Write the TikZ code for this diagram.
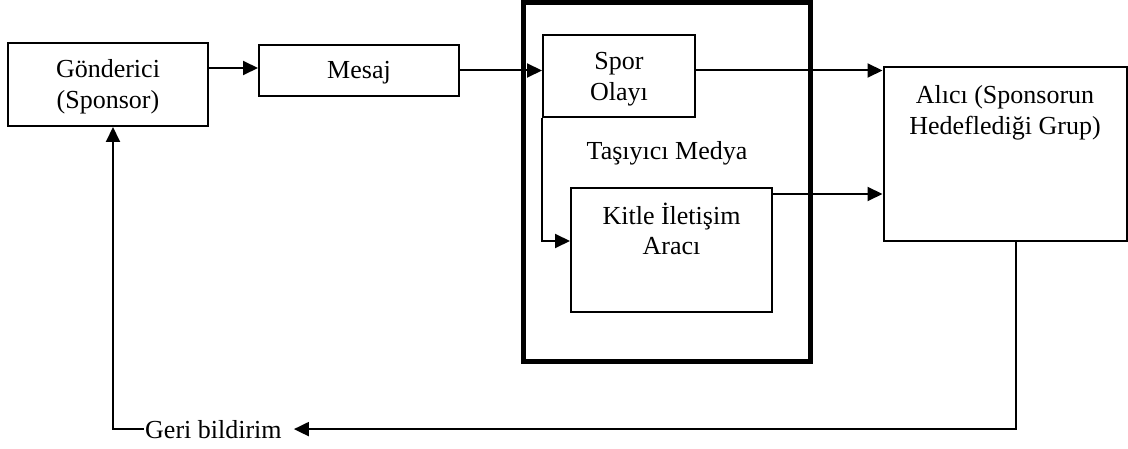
\documentclass[tikz,border=0pt]{standalone}
\usepackage{fontspec}
\setmainfont{Liberation Serif}
\usetikzlibrary{arrows.meta,calc}
\begin{document}
\begin{tikzpicture}[x=1pt,y=-1pt,
  box/.style={draw,line width=2pt,inner sep=0pt},
  lbl/.style={align=center,font=\fontsize{26}{31}\selectfont,inner sep=0pt},
  conn/.style={line width=2pt},
  arr/.style={conn,-{Triangle[length=15pt,width=14pt]}}]
\useasboundingbox (0,0) rectangle (1128,449);
% boxes
\node[box,minimum width=200pt,minimum height=83pt] (gond) at (108,84.5) {};
\node[box,minimum width=200pt,minimum height=51pt] (mesaj) at (359,70.5) {};
\node[draw,line width=5pt,inner sep=0pt,minimum width=287pt,minimum height=359.5pt] (medya) at (667,182) {};
\node[box,minimum width=152pt,minimum height=82pt] (spor) at (619,76) {};
\node[box,minimum width=201pt,minimum height=124pt] (kitle) at (671.5,250) {};
\node[box,minimum width=243pt,minimum height=174pt] (alici) at (1005,154) {};
% texts (base anchor = last line baseline)
\node[lbl,anchor=base] (tgond) at (108,109) {Gönderici\\(Sponsor)};
\node[lbl,anchor=base] (tmesaj) at (359,79) {Mesaj};
\node[lbl,anchor=base] (tspor) at (619,101) {Spor\\Olayı};
\node[lbl,anchor=base] (tmedya) at (667,160) {Taşıyıcı Medya};
\node[lbl,anchor=base] (tkitle) at (671.5,255) {Kitle İletişim\\Aracı};
\node[lbl,anchor=base] (talici) at (1005,135) {Alıcı (Sponsorun\\Hedeflediği Grup)};
\node[lbl,anchor=base west,inner sep=1pt] (geri) at (144,438) {Geri bildirim};
% connectors
\draw[arr] ($(gond.east |- mesaj.west)+(0,-2.5)$) -- ($(mesaj.west)+(0,-2.5)$);
\draw[arr] (mesaj.east) -- (mesaj.east -| spor.west);
\draw[arr] (spor.east |- mesaj.east) -- (alici.west |- mesaj.east);
\draw[arr] (spor.south west) |- ($(kitle.west)+(0,-9)$);
\draw[arr] ($(kitle.north east)+(0,7)$) -- (alici.west |- {$(kitle.north east)+(0,7)$});
\draw[arr] ($(alici.south)+(11,0)$) |- ($(geri.east)+(11,0)$);
\draw[arr] (geri.west) -| ($(gond.south)+(5,0)$);
\end{tikzpicture}
\end{document}
